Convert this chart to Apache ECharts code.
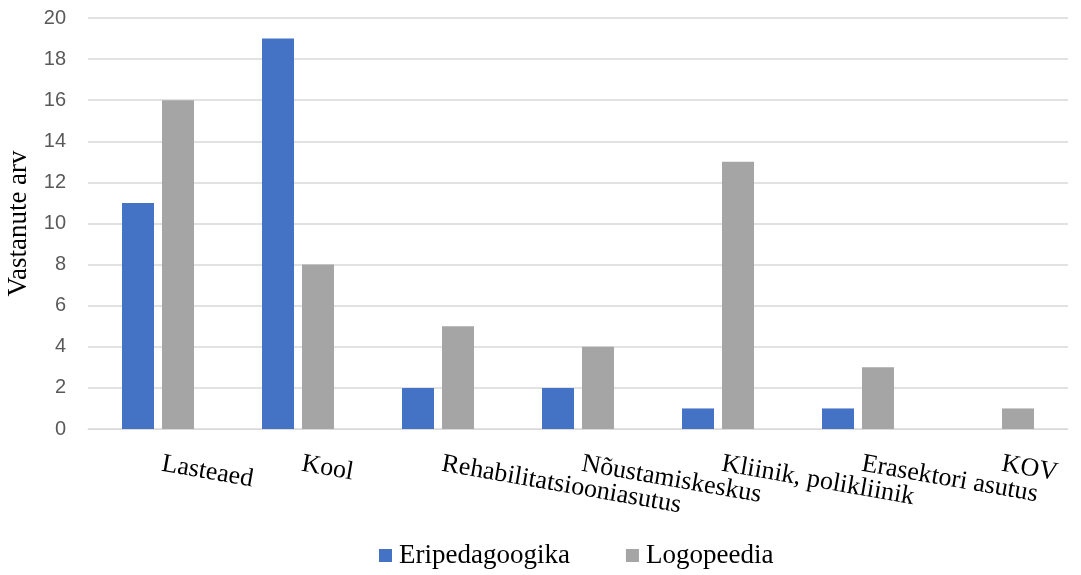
<!DOCTYPE html>
<html><head><meta charset="utf-8">
<script src="https://cdn.jsdelivr.net/npm/echarts@6/dist/echarts.min.js"></script>
<style>html,body{margin:0;padding:0;background:#fff}#c{width:1081px;height:575px}</style>
</head><body><div id="c"></div>
<script>
const categories = ['Lasteaed','Kool','Rehabilitatsiooniasutus','Nõustamiskeskus','Kliinik, polikliinik','Erasektori asutus','KOV'];
const eripedagoogika = [11,19,2,2,1,1,0];
const logopeedia = [16,8,5,4,13,3,1];
const yTicks = {min:0,max:20,interval:2};
const chart = echarts.init(document.getElementById('c'));
chart.setOption({
  animation:false,
  grid:{left:88,right:13,top:18,bottom:146,containLabel:false,outerBoundsMode:'none'},
  legend:{bottom:1,left:374,itemWidth:13,itemHeight:13,itemGap:56,icon:'rect',
    textStyle:{fontFamily:'Liberation Serif',fontSize:27,color:'#000',padding:[0,0,0,2]},
    data:['Eripedagoogika','Logopeedia']},
  xAxis:{type:'category',data:categories,
    axisLine:{show:true,lineStyle:{color:'#D9D9D9'}},axisTick:{show:false},
    axisLabel:{rotate:-10,margin:34,interval:0,fontFamily:'Liberation Serif',fontSize:26,color:'#000',padding:[0,0,0,4]}},
  yAxis:{type:'value',min:yTicks.min,max:yTicks.max,interval:yTicks.interval,
    name:'Vastanute arv',nameLocation:'middle',nameGap:53,
    nameTextStyle:{fontFamily:'Liberation Serif',fontSize:27,color:'#000'},
    axisLine:{show:false},axisTick:{show:false},
    axisLabel:{fontFamily:'Liberation Sans',fontSize:20,color:'#595959',margin:22},
    splitLine:{lineStyle:{color:'#D9D9D9',width:1.5}}},
  series:[
    {name:'Eripedagoogika',type:'bar',data:eripedagoogika,barWidth:32,barGap:'25%',itemStyle:{color:'#4472C4'}},
    {name:'Logopeedia',type:'bar',data:logopeedia,barWidth:32,itemStyle:{color:'#A5A5A5'}}
  ]
});
</script></body></html>
